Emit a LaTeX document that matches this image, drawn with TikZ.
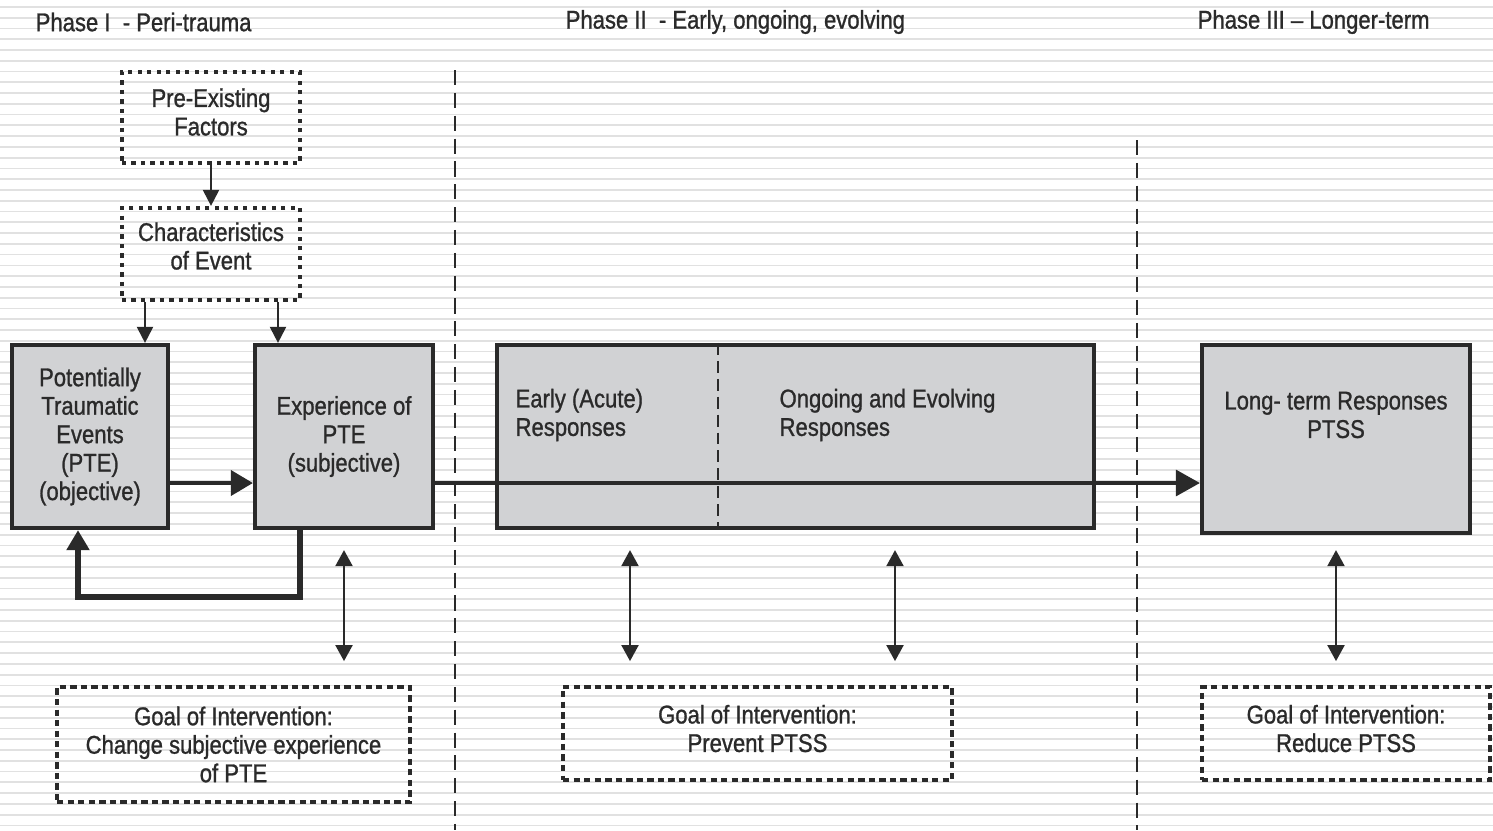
\documentclass[tikz,border=0pt]{standalone}
\usepackage{xcolor}
\usepackage{fontspec}
\setmainfont{Liberation Sans}[FakeStretch=0.86, FakeBold=1]
\usepackage{tikz}
\usetikzlibrary{arrows.meta}
\definecolor{BoxGray}{HTML}{d1d2d4}
\definecolor{Ink}{HTML}{2a2a2a}
\definecolor{Stripe}{HTML}{e1e1e1}

\begin{document}
\begin{tikzpicture}[
  txt/.style={text=Ink, font=\fontsize{7.3}{8.1}\selectfont, align=center, inner sep=0pt},
  solidbox/.style={draw=Ink, line width=1.2pt, fill=BoxGray, inner sep=0pt},
  dotbox/.style={draw=Ink, line width=1.2pt, dash pattern=on 1.2pt off 1.5pt, inner sep=0pt},
  goalbox/.style={draw=Ink, line width=1.1pt, dash pattern=on 1.8pt off 1.2pt, inner sep=0pt},
  phase/.style={draw=Ink, line width=0.8pt, dash pattern=on 4.3pt off 2.2pt},
  split/.style={draw=Ink, line width=0.8pt, dash pattern=on 3.4pt off 1.7pt},
  thinarrow/.style={draw=Ink, line width=0.6pt, -{Triangle[length=0.16cm,width=0.16cm]}},
  dblarrow/.style={draw=Ink, line width=0.6pt, {Triangle[length=0.16cm,width=0.17cm]}-{Triangle[length=0.16cm,width=0.17cm]}},
  bigarrow/.style={draw=Ink, line width=1.1pt, -{Triangle[length=0.22cm,width=0.25cm]}},
]%
\useasboundingbox[fill=white] (0,0) rectangle (14.93,8.30);%
% background stripes
\foreach \k in {0,...,76} {%
  \draw[Stripe, line width=0.5pt] (0,8.231-0.1077*\k) -- (14.93,8.231-0.1077*\k);%
}%
% phase titles
\node[txt, anchor=west] (ph1) at (0.35,8.08) {Phase I~ - Peri-trauma};%
\node[txt, anchor=west] (ph2) at (5.65,8.08) {Phase II~ - Early, ongoing, evolving};%
\node[txt, anchor=west] (ph3) at (11.97,8.08) {Phase III – Longer-term};%
% phase borders
\coordinate (b1top) at (4.55,7.60);%
\coordinate (b1bot) at (4.55,0);%
\coordinate (b2top) at (11.37,6.90);%
\coordinate (b2bot) at (11.37,0);%
\draw[phase] (b1top) -- (b1bot);%
\draw[phase] (b2top) -- (b2bot);%
% phase I
\node[dotbox, txt, minimum width=1.78cm, minimum height=0.91cm] (pre) at (2.11,7.125) {Pre-Existing\\Factors\\[-4.9pt]};%
\node[dotbox, txt, minimum width=1.78cm, minimum height=0.92cm] (charac) at (2.11,5.76) {Characteristics\\of Event\\[-3.5pt]};%
\node[solidbox, txt, minimum width=1.56cm, minimum height=1.83cm] (pte) at (0.90,3.935) {Potentially\\Traumatic\\Events\\(PTE)\\(objective)};%
\node[solidbox, txt, minimum width=1.78cm, minimum height=1.83cm] (exp) at (3.44,3.935) {Experience of\\PTE\\(subjective)};%
\draw[thinarrow] (pre) -- (charac);%
\draw[thinarrow] ([xshift=-0.66cm]charac.south) -- ([xshift=-0.66cm]charac.south |- pte.north);%
\draw[thinarrow] ([xshift=0.67cm]charac.south) -- ([xshift=0.67cm]charac.south |- exp.north);%
\draw[bigarrow] ([yshift=-0.465cm]pte.east) -- ([yshift=-0.465cm]pte.east -| exp.west);%
\draw[bigarrow, line width=1.5pt, -{Triangle[length=0.2cm,width=0.22cm]}] ([xshift=-0.44cm]exp.south) -- ++(0,-0.67) -| ([xshift=-0.12cm]pte.south);%
% phase II
\node[solidbox, minimum width=5.97cm, minimum height=1.83cm] (resp) at (7.955,3.935) {};%
\draw[split] ([xshift=-0.775cm]resp.north) -- ([xshift=-0.775cm]resp.south);%
\node[txt, align=left, anchor=west] (early) at ([xshift=0.2cm, yshift=0.215cm]resp.west) {Early (Acute)\\Responses};%
\node[txt, align=left, anchor=west] (ongoing) at ([xshift=2.84cm, yshift=0.215cm]resp.west) {Ongoing and Evolving\\Responses};%
% phase III
\node[solidbox, minimum width=2.68cm, minimum height=1.88cm] (lt) at (13.36,3.91) {};%
\node[txt] (lttext) at ([yshift=0.24cm]lt.center) {Long- term Responses\\PTSS};%
\draw[bigarrow, line width=0.9pt, -{Triangle[length=0.24cm,width=0.26cm]}] ([yshift=-0.465cm]exp.east) -- ([yshift=-0.465cm]exp.east -| lt.west);%
% goals
\node[goalbox, txt, minimum width=3.53cm, minimum height=1.15cm] (goal1) at (2.335,0.855) {Goal of Intervention:\\Change subjective experience\\of PTE};%
\node[goalbox, txt, minimum width=3.89cm, minimum height=0.93cm] (goal2) at (7.575,0.965) {Goal of Intervention:\\Prevent PTSS\\[-5.2pt]};%
\node[goalbox, txt, minimum width=2.88cm, minimum height=0.93cm] (goal3) at (13.46,0.965) {Goal of Intervention:\\Reduce PTSS\\[-5.2pt]};%
\coordinate (r1) at ([xshift=-1.655cm]resp.south);%
\coordinate (r2) at ([xshift=0.995cm]resp.south);%
\coordinate (g1) at (exp.south |- goal1.north);%
\coordinate (g2a) at (r1 |- goal2.north);%
\coordinate (g2b) at (r2 |- goal2.north);%
\coordinate (g3) at (lt.south |- goal3.north);%
\draw[dblarrow] ([yshift=-0.2cm]exp.south) -- ([yshift=0.24cm]g1);%
\draw[dblarrow] ([yshift=-0.2cm]r1) -- ([yshift=0.24cm]g2a);%
\draw[dblarrow] ([yshift=-0.2cm]r2) -- ([yshift=0.24cm]g2b);%
\draw[dblarrow] ([yshift=-0.15cm]lt.south) -- ([yshift=0.24cm]g3);%
\end{tikzpicture}
\end{document}
